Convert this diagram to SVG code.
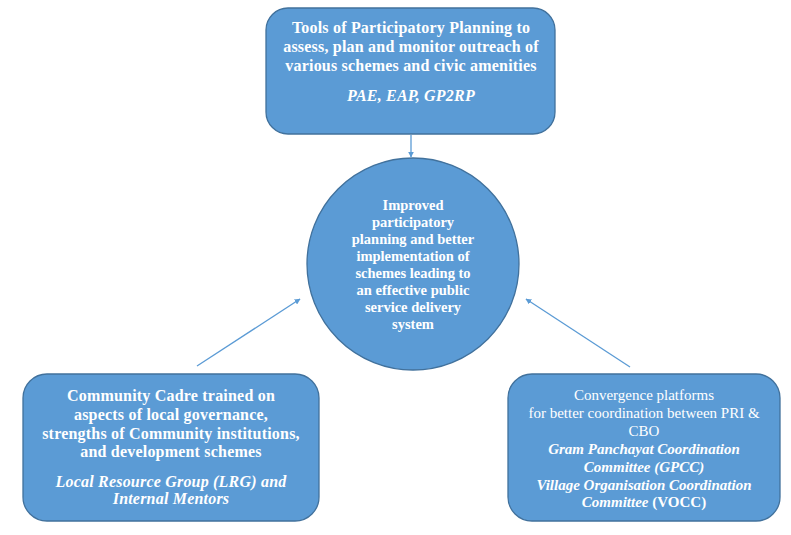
<svg xmlns="http://www.w3.org/2000/svg" width="791" height="535" viewBox="0 0 791 535">
<style>
.box{fill:#5B9BD5;stroke:#41719C;stroke-width:1.3}
.t{font-family:"Liberation Serif","Times New Roman",serif;fill:#fff;text-anchor:middle}
.b{font-weight:bold}
.i{font-style:italic}
.s15{font-size:15px}
.s16{font-size:16px;letter-spacing:0.2px}
.s13{font-size:14.5px}
.conn{stroke:#5B9BD5;stroke-width:1.3;fill:none}
</style>
<defs>
<marker id="ah" viewBox="0 0 10 10" refX="9" refY="5" markerWidth="6" markerHeight="6" orient="auto" markerUnits="userSpaceOnUse">
<path d="M0,0 L10,5 L0,10 z" fill="#5B9BD5"/>
</marker>
</defs>
<rect width="791" height="535" fill="#fff"/>
<g id="connectors">
<line class="conn" x1="411" y1="135" x2="411" y2="157" marker-end="url(#ah)"/>
<line class="conn" x1="197" y1="366" x2="300" y2="299" marker-end="url(#ah)"/>
<line class="conn" x1="630" y1="367" x2="526" y2="299" marker-end="url(#ah)"/>
</g>
<g id="tools">
<rect class="box" x="266" y="8" width="289" height="126" rx="22"/>
<text class="t b s16" x="411" y="33">Tools of Participatory Planning to</text>
<text class="t b s16" x="411" y="52">assess, plan and monitor outreach of</text>
<text class="t b s16" x="411" y="71">various schemes and civic amenities</text>
<text class="t b i s16" x="411" y="101">PAE, EAP, GP2RP</text>
</g>
<g id="outcome">
<circle class="box" cx="413" cy="264" r="106"/>
<text class="t b s13" x="413" y="210">Improved</text>
<text class="t b s13" x="413" y="227">participatory</text>
<text class="t b s13" x="413" y="244">planning and better</text>
<text class="t b s13" x="413" y="261">implementation of</text>
<text class="t b s13" x="413" y="278">schemes leading to</text>
<text class="t b s13" x="413" y="295">an effective public</text>
<text class="t b s13" x="413" y="312">service delivery</text>
<text class="t b s13" x="413" y="329">system</text>
</g>
<g id="cadre">
<rect class="box" x="23" y="374" width="296" height="147" rx="24"/>
<text class="t b s16" x="171" y="401">Community Cadre trained on</text>
<text class="t b s16" x="171" y="420">aspects of local governance,</text>
<text class="t b s16" x="171" y="439">strengths of Community institutions,</text>
<text class="t b s16" x="171" y="457">and development schemes</text>
<text class="t b i s16" x="171" y="487">Local Resource Group (LRG) and</text>
<text class="t b i s16" x="171" y="504">Internal Mentors</text>
</g>
<g id="convergence">
<rect class="box" x="508" y="374" width="272" height="147" rx="24"/>
<text class="t s15" x="644" y="400">Convergence platforms</text>
<text class="t s15" x="644" y="418">for better coordination between PRI &amp;</text>
<text class="t s15" x="644" y="436">CBO</text>
<text class="t b i s15" x="644" y="454">Gram Panchayat Coordination</text>
<text class="t b i s15" x="644" y="472">Committee (GPCC)</text>
<text class="t b i s15" x="644" y="490">Village Organisation Coordination</text>
<text class="t b s15" x="644" y="507"><tspan class="i">Committee</tspan> (VOCC)</text>
</g>
</svg>
